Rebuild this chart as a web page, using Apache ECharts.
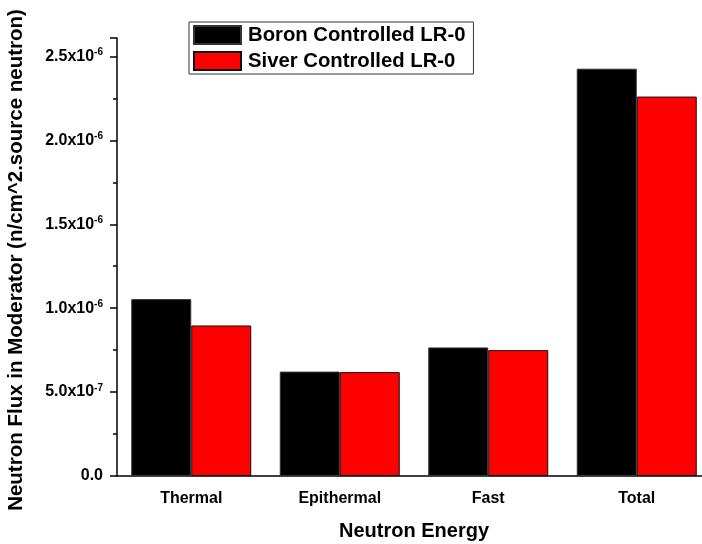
<!DOCTYPE html>
<html>
<head>
<meta charset="utf-8">
<script src="https://cdn.jsdelivr.net/npm/echarts@6/dist/echarts.min.js"></script>
<style>
  html, body { margin: 0; padding: 0; background: #fff; }
  #main { width: 702px; height: 544px; }
</style>
</head>
<body>
<div id="main"></div>
<script>
// data
var categories = ['Thermal', 'Epithermal', 'Fast', 'Total'];
var seriesNames = ['Boron Controlled LR-0', 'Siver Controlled LR-0'];
var boronFlux = [1.054e-6, 0.622e-6, 0.766e-6, 2.427e-6];
var silverFlux = [0.897e-6, 0.619e-6, 0.750e-6, 2.261e-6];
var yTickLabels = ['0.0', '5.0x10^-7', '1.0x10^-6', '1.5x10^-6', '2.0x10^-6', '2.5x10^-6'];

var FONT = 'Arial, "Liberation Sans", sans-serif';
var myChart = echarts.init(document.getElementById('main'));

var option = {
    backgroundColor: '#fff',
    animation: false,
    // the x axis runs a little past the right edge of the picture
    grid: { left: 117, width: 594, top: 38, bottom: 68, outerBoundsMode: 'none' },
    legend: {
        orient: 'vertical',
        left: 189,
        top: 22,
        padding: [3, 8, 3, 4],
        itemGap: 6,
        itemWidth: 47,
        itemHeight: 18,
        borderColor: '#333',
        borderWidth: 1,
        icon: 'rect',
        textStyle: { fontFamily: FONT, fontWeight: 'bold', fontSize: 20.3, color: '#000', padding: [0, 0, 0, 2] },
        data: seriesNames
    },
    xAxis: [
        {
            type: 'category',
            data: categories,
            name: 'Neutron Energy',
            nameLocation: 'middle',
            nameGap: 45,
            nameTextStyle: { fontFamily: FONT, fontWeight: 'bold', fontSize: 20, color: '#000' },
            axisLine: { lineStyle: { color: '#000', width: 1.5 } },
            axisTick: { alignWithLabel: true, length: 8, lineStyle: { color: '#000', width: 1.5 } },
            axisLabel: { margin: 15, fontFamily: FONT, fontWeight: 'bold', fontSize: 16, color: '#000' },
            splitLine: { show: false }
        },
        {
            // short ticks on the category boundaries
            type: 'category',
            data: categories,
            position: 'bottom',
            axisLine: { show: false },
            axisTick: { length: 4, lineStyle: { color: '#000', width: 1.5 } },
            axisLabel: { show: false },
            splitLine: { show: false }
        }
    ],
    yAxis: {
        type: 'value',
        min: 0,
        max: 2.61e-6,
        interval: 5e-7,
        name: 'Neutron Flux in Moderator (n/cm^2.source neutron)',
        nameLocation: 'middle',
        nameGap: 90,
        nameTextStyle: { fontFamily: FONT, fontWeight: 'bold', fontSize: 20.5, color: '#000', padding: [0, 6, 0, 0] },
        axisLine: { show: true, lineStyle: { color: '#000', width: 1.5 } },
        axisTick: { show: true, length: 7, lineStyle: { color: '#000', width: 1.5 } },
        minorTick: { show: true, splitNumber: 2, length: 4, lineStyle: { color: '#000', width: 1.5 } },
        splitLine: { show: false },
        axisLabel: {
            margin: 14,
            showMaxLabel: false,
            formatter: function (v) {
                var k = v / 5e-7;
                if (Math.abs(k - Math.round(k)) > 1e-6) return '';
                var s = yTickLabels[Math.round(k)];
                if (s === undefined) return '';
                var p = s.split('^');
                return p.length > 1 ? '{b|' + p[0] + '}{s|' + p[1] + '}' : '{b|' + p[0] + '}';
            },
            rich: {
                b: { fontFamily: FONT, fontWeight: 'bold', fontSize: 16, color: '#000', lineHeight: 18 },
                s: { fontFamily: FONT, fontWeight: 'bold', fontSize: 10, color: '#000', verticalAlign: 'top', lineHeight: 18, padding: [0, 0, 8, 0] }
            }
        }
    },
    series: [
        {
            name: seriesNames[0],
            type: 'bar',
            data: boronFlux,
            barWidth: 60,
            barGap: '0%',
            itemStyle: { color: '#000000', borderColor: '#333', borderWidth: 1 }
        },
        {
            name: seriesNames[1],
            type: 'bar',
            data: silverFlux,
            barWidth: 60,
            barGap: '0%',
            itemStyle: { color: '#ff0000', borderColor: '#111', borderWidth: 1 }
        }
    ]
};

myChart.setOption(option);
</script>
</body>
</html>
